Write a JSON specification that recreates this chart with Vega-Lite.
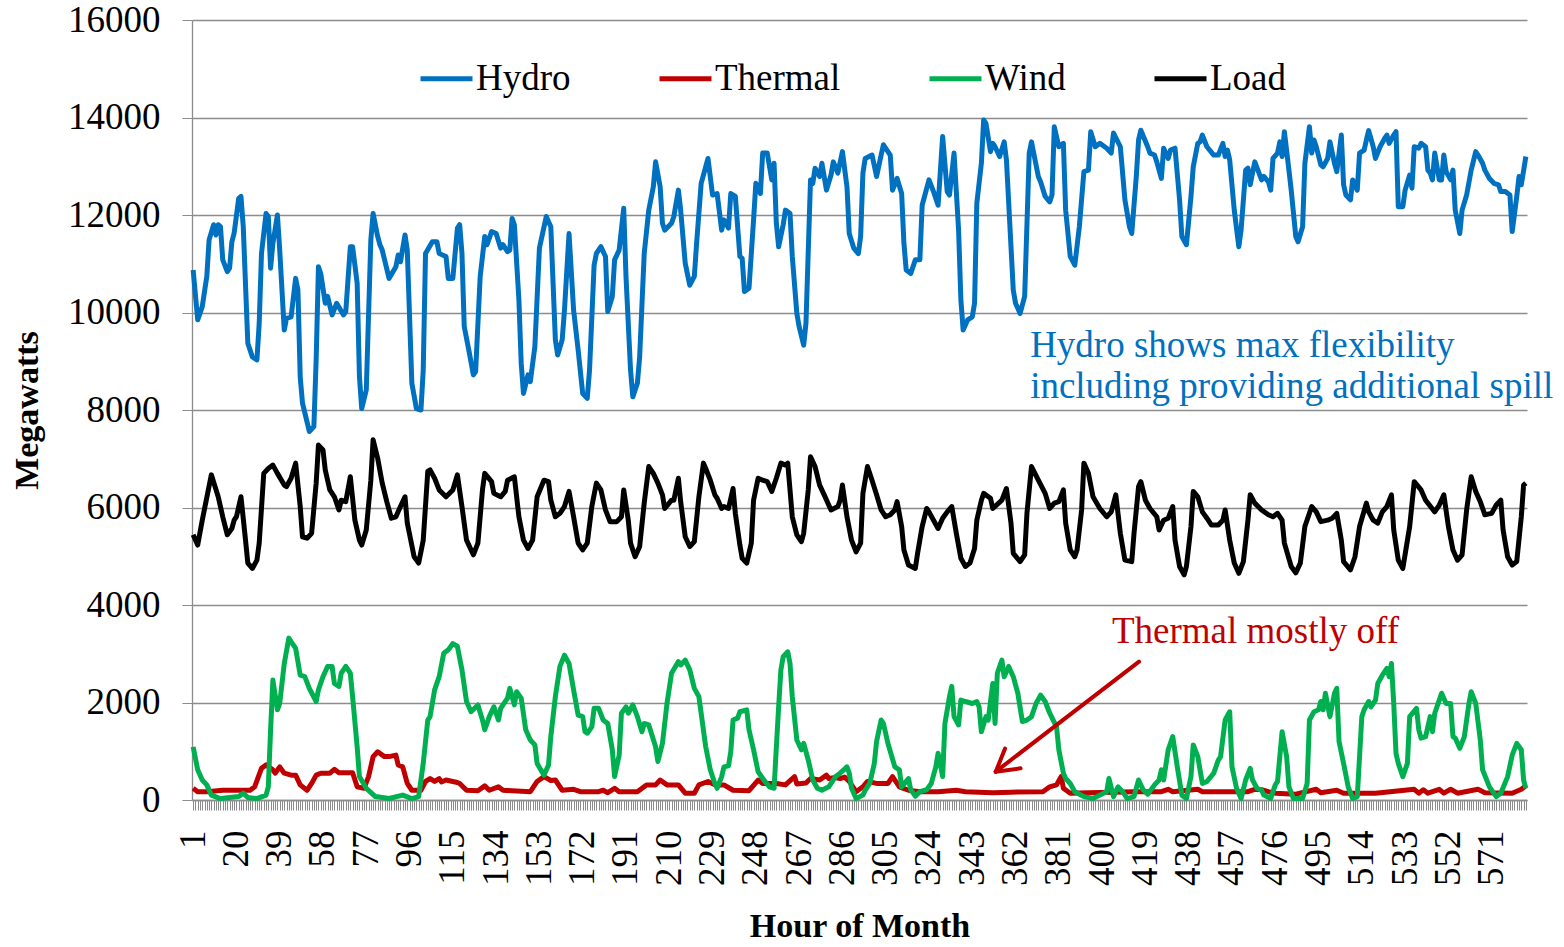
{
"$schema":"https://vega.github.io/schema/vega-lite/v6.json",
"width":1335,"height":780,
"autosize":{"type":"none"},
"padding":{"left":192,"top":20,"right":37,"bottom":147},
"background":"white",
"config":{"font":"Liberation Serif","view":{"stroke":null},"axis":{"labelFont":"Liberation Serif","titleFont":"Liberation Serif","labelColor":"#000000","titleColor":"#000000"},"legend":{"labelFont":"Liberation Serif"}},
"datasets":{
"hydro":[{"h":1,"v":10870},{"h":3,"v":9850},{"h":5,"v":10120},{"h":7,"v":10740},{"h":8,"v":11490},{"h":10,"v":11800},{"h":11,"v":11590},{"h":12,"v":11800},{"h":13,"v":11760},{"h":14,"v":11080},{"h":16,"v":10840},{"h":17,"v":10910},{"h":18,"v":11450},{"h":19,"v":11630},{"h":21,"v":12340},{"h":22,"v":12380},{"h":23,"v":11760},{"h":25,"v":9370},{"h":27,"v":9090},{"h":29,"v":9030},{"h":30,"v":9780},{"h":31,"v":11210},{"h":33,"v":12030},{"h":34,"v":11970},{"h":35,"v":10910},{"h":36,"v":11420},{"h":38,"v":12000},{"h":39,"v":11280},{"h":41,"v":9640},{"h":42,"v":9880},{"h":44,"v":9910},{"h":46,"v":10700},{"h":47,"v":10460},{"h":48,"v":8680},{"h":49,"v":8140},{"h":52,"v":7560},{"h":54,"v":7660},{"h":55,"v":9030},{"h":56,"v":10940},{"h":57,"v":10800},{"h":59,"v":10190},{"h":60,"v":10330},{"h":62,"v":9950},{"h":64,"v":10190},{"h":67,"v":9950},{"h":68,"v":10020},{"h":70,"v":11350},{"h":71,"v":11350},{"h":73,"v":10600},{"h":74,"v":8680},{"h":75,"v":8030},{"h":77,"v":8410},{"h":79,"v":11490},{"h":80,"v":12030},{"h":82,"v":11560},{"h":83,"v":11390},{"h":84,"v":11280},{"h":87,"v":10700},{"h":90,"v":10940},{"h":91,"v":11180},{"h":92,"v":11040},{"h":94,"v":11590},{"h":95,"v":11280},{"h":97,"v":8550},{"h":99,"v":8030},{"h":101,"v":8000},{"h":102,"v":8820},{"h":103,"v":11210},{"h":106,"v":11450},{"h":108,"v":11450},{"h":109,"v":11210},{"h":112,"v":11150},{"h":113,"v":10700},{"h":115,"v":10700},{"h":117,"v":11730},{"h":118,"v":11800},{"h":119,"v":11210},{"h":120,"v":9710},{"h":122,"v":9230},{"h":124,"v":8720},{"h":125,"v":8790},{"h":127,"v":10740},{"h":129,"v":11560},{"h":130,"v":11390},{"h":132,"v":11660},{"h":134,"v":11620},{"h":136,"v":11320},{"h":137,"v":11390},{"h":139,"v":11250},{"h":140,"v":11280},{"h":141,"v":11930},{"h":142,"v":11800},{"h":144,"v":10260},{"h":145,"v":8960},{"h":146,"v":8340},{"h":148,"v":8720},{"h":149,"v":8580},{"h":151,"v":9300},{"h":153,"v":11320},{"h":156,"v":11970},{"h":158,"v":11760},{"h":160,"v":9440},{"h":161,"v":9130},{"h":163,"v":9440},{"h":164,"v":10050},{"h":166,"v":11620},{"h":168,"v":10050},{"h":170,"v":9230},{"h":172,"v":8340},{"h":174,"v":8240},{"h":175,"v":8820},{"h":177,"v":10970},{"h":178,"v":11210},{"h":180,"v":11350},{"h":182,"v":11150},{"h":183,"v":10020},{"h":185,"v":10330},{"h":186,"v":11080},{"h":188,"v":11280},{"h":190,"v":12140},{"h":191,"v":10740},{"h":193,"v":8820},{"h":194,"v":8270},{"h":196,"v":8550},{"h":197,"v":9090},{"h":199,"v":11210},{"h":201,"v":12100},{"h":203,"v":12580},{"h":204,"v":13090},{"h":206,"v":12580},{"h":207,"v":11830},{"h":208,"v":11690},{"h":211,"v":11830},{"h":212,"v":11970},{"h":214,"v":12510},{"h":215,"v":12100},{"h":217,"v":11010},{"h":219,"v":10560},{"h":221,"v":10740},{"h":222,"v":11420},{"h":224,"v":12650},{"h":226,"v":12990},{"h":227,"v":13160},{"h":229,"v":12410},{"h":231,"v":12440},{"h":233,"v":11690},{"h":234,"v":11900},{"h":236,"v":11730},{"h":237,"v":12440},{"h":239,"v":12380},{"h":241,"v":11150},{"h":242,"v":11110},{"h":243,"v":10430},{"h":245,"v":10500},{"h":247,"v":11900},{"h":248,"v":12650},{"h":250,"v":12440},{"h":251,"v":13270},{"h":253,"v":13270},{"h":255,"v":12720},{"h":256,"v":13060},{"h":257,"v":11830},{"h":258,"v":11350},{"h":260,"v":11800},{"h":261,"v":12100},{"h":263,"v":12030},{"h":264,"v":11150},{"h":266,"v":9980},{"h":267,"v":9710},{"h":269,"v":9330},{"h":270,"v":9780},{"h":272,"v":12720},{"h":273,"v":12650},{"h":274,"v":12960},{"h":276,"v":12790},{"h":277,"v":13060},{"h":279,"v":12510},{"h":281,"v":12820},{"h":282,"v":13090},{"h":284,"v":12860},{"h":286,"v":13300},{"h":288,"v":12580},{"h":289,"v":11620},{"h":291,"v":11320},{"h":293,"v":11210},{"h":294,"v":11560},{"h":295,"v":12860},{"h":296,"v":13160},{"h":299,"v":13230},{"h":301,"v":12790},{"h":303,"v":13230},{"h":304,"v":13440},{"h":307,"v":13230},{"h":308,"v":12510},{"h":310,"v":12750},{"h":312,"v":12440},{"h":313,"v":11420},{"h":314,"v":10870},{"h":316,"v":10800},{"h":318,"v":11080},{"h":320,"v":11080},{"h":321,"v":12200},{"h":324,"v":12720},{"h":326,"v":12480},{"h":328,"v":12200},{"h":330,"v":13610},{"h":332,"v":12480},{"h":333,"v":12410},{"h":335,"v":13270},{"h":337,"v":11690},{"h":338,"v":10260},{"h":339,"v":9640},{"h":341,"v":9850},{"h":343,"v":9910},{"h":344,"v":10190},{"h":345,"v":12240},{"h":347,"v":13060},{"h":348,"v":13950},{"h":349,"v":13880},{"h":351,"v":13300},{"h":352,"v":13470},{"h":353,"v":13400},{"h":355,"v":13200},{"h":357,"v":13500},{"h":358,"v":13130},{"h":361,"v":10460},{"h":362,"v":10190},{"h":364,"v":9980},{"h":366,"v":10330},{"h":368,"v":13270},{"h":369,"v":13500},{"h":372,"v":12790},{"h":373,"v":12680},{"h":375,"v":12380},{"h":377,"v":12270},{"h":378,"v":12410},{"h":379,"v":13810},{"h":381,"v":13400},{"h":383,"v":13470},{"h":384,"v":12100},{"h":386,"v":11150},{"h":388,"v":10970},{"h":390,"v":11760},{"h":392,"v":12890},{"h":394,"v":12920},{"h":395,"v":13710},{"h":397,"v":13400},{"h":399,"v":13470},{"h":402,"v":13370},{"h":404,"v":13270},{"h":405,"v":13680},{"h":408,"v":13400},{"h":410,"v":12310},{"h":412,"v":11760},{"h":413,"v":11620},{"h":415,"v":12790},{"h":416,"v":13540},{"h":417,"v":13740},{"h":420,"v":13400},{"h":421,"v":13270},{"h":423,"v":13230},{"h":424,"v":13090},{"h":426,"v":12750},{"h":427,"v":13370},{"h":429,"v":13160},{"h":430,"v":13330},{"h":432,"v":13370},{"h":434,"v":12310},{"h":435,"v":11560},{"h":437,"v":11390},{"h":439,"v":12380},{"h":440,"v":12990},{"h":442,"v":13470},{"h":443,"v":13500},{"h":444,"v":13640},{"h":446,"v":13400},{"h":449,"v":13230},{"h":451,"v":13230},{"h":453,"v":13470},{"h":454,"v":13200},{"h":455,"v":13330},{"h":456,"v":13130},{"h":458,"v":12100},{"h":460,"v":11350},{"h":461,"v":11690},{"h":463,"v":12920},{"h":464,"v":12960},{"h":465,"v":12620},{"h":467,"v":13090},{"h":470,"v":12720},{"h":471,"v":12790},{"h":473,"v":12680},{"h":474,"v":12510},{"h":475,"v":13160},{"h":477,"v":13270},{"h":478,"v":13500},{"h":479,"v":13200},{"h":480,"v":13710},{"h":482,"v":12920},{"h":483,"v":12510},{"h":485,"v":11560},{"h":486,"v":11450},{"h":488,"v":11760},{"h":489,"v":13060},{"h":491,"v":13810},{"h":492,"v":13270},{"h":493,"v":13540},{"h":494,"v":13400},{"h":496,"v":13030},{"h":497,"v":12990},{"h":499,"v":13160},{"h":500,"v":13500},{"h":502,"v":13060},{"h":503,"v":12890},{"h":505,"v":13640},{"h":506,"v":12620},{"h":507,"v":12410},{"h":509,"v":12310},{"h":510,"v":12720},{"h":512,"v":12510},{"h":513,"v":13270},{"h":515,"v":13330},{"h":516,"v":13540},{"h":517,"v":13730},{"h":519,"v":13400},{"h":520,"v":13160},{"h":522,"v":13400},{"h":524,"v":13570},{"h":525,"v":13640},{"h":526,"v":13470},{"h":528,"v":13640},{"h":529,"v":13710},{"h":530,"v":12170},{"h":532,"v":12170},{"h":533,"v":12510},{"h":535,"v":12820},{"h":536,"v":12550},{"h":537,"v":13400},{"h":539,"v":13370},{"h":540,"v":13470},{"h":542,"v":13400},{"h":543,"v":12920},{"h":544,"v":12860},{"h":545,"v":12720},{"h":546,"v":13270},{"h":548,"v":12720},{"h":549,"v":12720},{"h":550,"v":13230},{"h":551,"v":12890},{"h":553,"v":12720},{"h":554,"v":12920},{"h":555,"v":12100},{"h":557,"v":11620},{"h":558,"v":12100},{"h":560,"v":12410},{"h":562,"v":12920},{"h":564,"v":13300},{"h":565,"v":13230},{"h":567,"v":13060},{"h":568,"v":12920},{"h":570,"v":12750},{"h":572,"v":12650},{"h":574,"v":12620},{"h":575,"v":12480},{"h":577,"v":12480},{"h":579,"v":12410},{"h":580,"v":11660},{"h":582,"v":12380},{"h":583,"v":12790},{"h":584,"v":12620},{"h":586,"v":13200}],
"thermal":[{"h":1,"v":240},{"h":3,"v":170},{"h":7,"v":170},{"h":14,"v":200},{"h":26,"v":200},{"h":28,"v":270},{"h":31,"v":650},{"h":33,"v":720},{"h":36,"v":620},{"h":37,"v":550},{"h":39,"v":680},{"h":41,"v":550},{"h":44,"v":510},{"h":46,"v":510},{"h":48,"v":310},{"h":51,"v":200},{"h":53,"v":340},{"h":55,"v":510},{"h":57,"v":550},{"h":61,"v":550},{"h":63,"v":630},{"h":65,"v":560},{"h":71,"v":560},{"h":73,"v":270},{"h":76,"v":240},{"h":78,"v":480},{"h":80,"v":890},{"h":82,"v":990},{"h":85,"v":890},{"h":87,"v":890},{"h":90,"v":920},{"h":91,"v":720},{"h":93,"v":680},{"h":95,"v":340},{"h":97,"v":200},{"h":101,"v":200},{"h":103,"v":380},{"h":105,"v":440},{"h":107,"v":380},{"h":109,"v":440},{"h":110,"v":370},{"h":112,"v":410},{"h":117,"v":360},{"h":118,"v":340},{"h":121,"v":200},{"h":126,"v":190},{"h":129,"v":290},{"h":131,"v":200},{"h":135,"v":270},{"h":137,"v":200},{"h":149,"v":170},{"h":152,"v":380},{"h":155,"v":480},{"h":158,"v":400},{"h":160,"v":410},{"h":163,"v":200},{"h":168,"v":220},{"h":171,"v":170},{"h":179,"v":170},{"h":181,"v":200},{"h":183,"v":150},{"h":186,"v":240},{"h":188,"v":170},{"h":196,"v":170},{"h":200,"v":310},{"h":204,"v":310},{"h":206,"v":410},{"h":209,"v":310},{"h":214,"v":310},{"h":217,"v":140},{"h":221,"v":140},{"h":223,"v":310},{"h":227,"v":380},{"h":230,"v":310},{"h":234,"v":310},{"h":238,"v":200},{"h":245,"v":190},{"h":249,"v":410},{"h":251,"v":340},{"h":257,"v":340},{"h":261,"v":310},{"h":265,"v":480},{"h":266,"v":330},{"h":270,"v":350},{"h":272,"v":440},{"h":276,"v":410},{"h":279,"v":510},{"h":280,"v":440},{"h":283,"v":460},{"h":285,"v":440},{"h":287,"v":470},{"h":289,"v":380},{"h":292,"v":170},{"h":295,"v":270},{"h":297,"v":380},{"h":301,"v":340},{"h":306,"v":340},{"h":308,"v":480},{"h":311,"v":270},{"h":315,"v":200},{"h":320,"v":170},{"h":328,"v":170},{"h":336,"v":200},{"h":340,"v":170},{"h":352,"v":150},{"h":360,"v":160},{"h":374,"v":170},{"h":377,"v":270},{"h":380,"v":310},{"h":382,"v":480},{"h":383,"v":240},{"h":386,"v":140},{"h":394,"v":150},{"h":405,"v":160},{"h":414,"v":170},{"h":426,"v":170},{"h":429,"v":220},{"h":431,"v":170},{"h":442,"v":220},{"h":444,"v":170},{"h":455,"v":170},{"h":464,"v":170},{"h":467,"v":220},{"h":470,"v":210},{"h":473,"v":170},{"h":476,"v":140},{"h":485,"v":120},{"h":494,"v":220},{"h":496,"v":150},{"h":503,"v":200},{"h":506,"v":140},{"h":520,"v":140},{"h":537,"v":220},{"h":539,"v":140},{"h":541,"v":210},{"h":543,"v":140},{"h":548,"v":220},{"h":550,"v":140},{"h":553,"v":220},{"h":556,"v":140},{"h":565,"v":220},{"h":568,"v":150},{"h":580,"v":140},{"h":584,"v":220},{"h":586,"v":290}],
"wind":[{"h":1,"v":1090},{"h":3,"v":620},{"h":5,"v":410},{"h":7,"v":310},{"h":9,"v":100},{"h":13,"v":30},{"h":21,"v":70},{"h":23,"v":140},{"h":25,"v":50},{"h":29,"v":30},{"h":33,"v":100},{"h":34,"v":270},{"h":35,"v":1440},{"h":36,"v":2460},{"h":38,"v":1850},{"h":39,"v":1980},{"h":41,"v":2800},{"h":43,"v":3320},{"h":44,"v":3250},{"h":46,"v":3110},{"h":48,"v":2560},{"h":50,"v":2530},{"h":52,"v":2290},{"h":55,"v":2020},{"h":56,"v":2260},{"h":58,"v":2530},{"h":60,"v":2740},{"h":62,"v":2740},{"h":63,"v":2390},{"h":65,"v":2330},{"h":66,"v":2600},{"h":68,"v":2740},{"h":70,"v":2600},{"h":71,"v":2120},{"h":73,"v":1090},{"h":74,"v":480},{"h":77,"v":240},{"h":81,"v":70},{"h":87,"v":30},{"h":93,"v":100},{"h":97,"v":30},{"h":100,"v":70},{"h":102,"v":750},{"h":104,"v":1640},{"h":105,"v":1710},{"h":107,"v":2260},{"h":109,"v":2530},{"h":111,"v":3010},{"h":113,"v":3080},{"h":115,"v":3210},{"h":117,"v":3150},{"h":119,"v":2670},{"h":121,"v":2020},{"h":123,"v":1810},{"h":126,"v":1950},{"h":128,"v":1640},{"h":129,"v":1440},{"h":131,"v":1710},{"h":133,"v":1910},{"h":135,"v":1640},{"h":136,"v":1880},{"h":139,"v":2090},{"h":140,"v":2290},{"h":142,"v":1950},{"h":143,"v":2220},{"h":145,"v":2090},{"h":147,"v":1440},{"h":149,"v":1230},{"h":151,"v":1130},{"h":152,"v":750},{"h":155,"v":510},{"h":157,"v":720},{"h":158,"v":1300},{"h":160,"v":2120},{"h":162,"v":2740},{"h":164,"v":2970},{"h":166,"v":2800},{"h":168,"v":2260},{"h":170,"v":1740},{"h":172,"v":1710},{"h":173,"v":1400},{"h":174,"v":1370},{"h":176,"v":1500},{"h":177,"v":1880},{"h":179,"v":1880},{"h":181,"v":1640},{"h":183,"v":1570},{"h":185,"v":1030},{"h":186,"v":480},{"h":188,"v":920},{"h":189,"v":1780},{"h":191,"v":1910},{"h":192,"v":1780},{"h":194,"v":1950},{"h":196,"v":1710},{"h":198,"v":1400},{"h":199,"v":1570},{"h":201,"v":1540},{"h":204,"v":1090},{"h":205,"v":790},{"h":207,"v":1160},{"h":209,"v":1980},{"h":211,"v":2600},{"h":214,"v":2840},{"h":215,"v":2770},{"h":217,"v":2870},{"h":219,"v":2670},{"h":221,"v":2290},{"h":223,"v":2120},{"h":226,"v":1090},{"h":228,"v":620},{"h":230,"v":340},{"h":231,"v":240},{"h":233,"v":480},{"h":234,"v":680},{"h":236,"v":700},{"h":237,"v":990},{"h":238,"v":1640},{"h":240,"v":1680},{"h":241,"v":1810},{"h":244,"v":1850},{"h":245,"v":1440},{"h":247,"v":1030},{"h":249,"v":580},{"h":252,"v":380},{"h":254,"v":270},{"h":256,"v":240},{"h":258,"v":1910},{"h":259,"v":2670},{"h":260,"v":2940},{"h":262,"v":3040},{"h":263,"v":2800},{"h":264,"v":2120},{"h":266,"v":1230},{"h":268,"v":1030},{"h":269,"v":1160},{"h":271,"v":820},{"h":273,"v":410},{"h":275,"v":240},{"h":277,"v":200},{"h":280,"v":270},{"h":283,"v":480},{"h":285,"v":550},{"h":288,"v":680},{"h":289,"v":550},{"h":290,"v":240},{"h":292,"v":30},{"h":295,"v":100},{"h":296,"v":200},{"h":298,"v":340},{"h":300,"v":750},{"h":301,"v":1200},{"h":303,"v":1640},{"h":304,"v":1570},{"h":306,"v":1160},{"h":309,"v":680},{"h":311,"v":620},{"h":312,"v":270},{"h":315,"v":440},{"h":316,"v":210},{"h":318,"v":80},{"h":320,"v":170},{"h":323,"v":210},{"h":325,"v":340},{"h":327,"v":680},{"h":328,"v":960},{"h":330,"v":480},{"h":331,"v":1570},{"h":333,"v":2120},{"h":334,"v":2330},{"h":335,"v":1710},{"h":337,"v":1540},{"h":338,"v":2050},{"h":340,"v":2020},{"h":343,"v":1980},{"h":345,"v":2020},{"h":346,"v":1910},{"h":347,"v":1400},{"h":349,"v":1710},{"h":350,"v":1640},{"h":352,"v":2390},{"h":353,"v":1570},{"h":354,"v":2600},{"h":356,"v":2870},{"h":357,"v":2530},{"h":359,"v":2740},{"h":361,"v":2530},{"h":363,"v":2190},{"h":365,"v":1610},{"h":367,"v":1640},{"h":369,"v":1710},{"h":371,"v":1980},{"h":373,"v":2150},{"h":375,"v":2020},{"h":377,"v":1780},{"h":380,"v":1500},{"h":381,"v":1030},{"h":383,"v":550},{"h":384,"v":440},{"h":386,"v":340},{"h":388,"v":170},{"h":392,"v":70},{"h":396,"v":30},{"h":399,"v":100},{"h":402,"v":170},{"h":403,"v":440},{"h":405,"v":70},{"h":407,"v":270},{"h":409,"v":170},{"h":411,"v":30},{"h":414,"v":70},{"h":416,"v":410},{"h":418,"v":210},{"h":420,"v":120},{"h":423,"v":310},{"h":425,"v":410},{"h":426,"v":620},{"h":427,"v":410},{"h":429,"v":1030},{"h":431,"v":1300},{"h":433,"v":680},{"h":435,"v":100},{"h":437,"v":30},{"h":439,"v":480},{"h":440,"v":1130},{"h":442,"v":890},{"h":444,"v":340},{"h":446,"v":380},{"h":449,"v":550},{"h":451,"v":820},{"h":452,"v":890},{"h":454,"v":1640},{"h":456,"v":1810},{"h":457,"v":680},{"h":459,"v":240},{"h":461,"v":30},{"h":463,"v":410},{"h":465,"v":650},{"h":466,"v":410},{"h":468,"v":240},{"h":470,"v":200},{"h":471,"v":100},{"h":474,"v":30},{"h":476,"v":310},{"h":477,"v":380},{"h":479,"v":1400},{"h":481,"v":890},{"h":482,"v":270},{"h":484,"v":30},{"h":488,"v":30},{"h":490,"v":340},{"h":491,"v":1640},{"h":493,"v":1810},{"h":495,"v":1850},{"h":496,"v":2020},{"h":497,"v":1850},{"h":498,"v":2190},{"h":500,"v":1710},{"h":502,"v":2190},{"h":503,"v":2290},{"h":504,"v":1200},{"h":506,"v":750},{"h":508,"v":270},{"h":510,"v":30},{"h":512,"v":70},{"h":514,"v":1710},{"h":515,"v":1850},{"h":517,"v":2020},{"h":518,"v":1910},{"h":520,"v":2050},{"h":521,"v":2390},{"h":523,"v":2560},{"h":525,"v":2700},{"h":526,"v":2530},{"h":527,"v":2800},{"h":528,"v":1980},{"h":529,"v":960},{"h":530,"v":750},{"h":532,"v":480},{"h":534,"v":750},{"h":535,"v":1710},{"h":538,"v":1880},{"h":539,"v":1440},{"h":540,"v":1270},{"h":542,"v":1300},{"h":544,"v":1710},{"h":545,"v":1400},{"h":546,"v":1780},{"h":548,"v":2050},{"h":549,"v":2190},{"h":551,"v":1980},{"h":553,"v":1980},{"h":554,"v":1300},{"h":555,"v":1270},{"h":557,"v":1060},{"h":559,"v":1300},{"h":561,"v":1980},{"h":562,"v":2220},{"h":564,"v":1980},{"h":566,"v":1230},{"h":567,"v":620},{"h":570,"v":270},{"h":573,"v":70},{"h":575,"v":140},{"h":578,"v":480},{"h":580,"v":920},{"h":582,"v":1160},{"h":584,"v":1030},{"h":585,"v":410},{"h":586,"v":240}],
"load":[{"h":1,"v":5440},{"h":3,"v":5230},{"h":5,"v":5740},{"h":9,"v":6670},{"h":12,"v":6220},{"h":14,"v":5810},{"h":16,"v":5440},{"h":18,"v":5570},{"h":19,"v":5740},{"h":20,"v":5810},{"h":22,"v":6220},{"h":24,"v":5330},{"h":25,"v":4860},{"h":27,"v":4750},{"h":29,"v":4920},{"h":30,"v":5270},{"h":32,"v":6700},{"h":34,"v":6800},{"h":36,"v":6870},{"h":38,"v":6700},{"h":41,"v":6460},{"h":42,"v":6430},{"h":44,"v":6600},{"h":46,"v":6910},{"h":48,"v":6020},{"h":49,"v":5400},{"h":51,"v":5370},{"h":53,"v":5470},{"h":55,"v":6500},{"h":56,"v":7280},{"h":58,"v":7180},{"h":59,"v":6770},{"h":61,"v":6360},{"h":63,"v":6220},{"h":65,"v":5950},{"h":66,"v":6150},{"h":68,"v":6120},{"h":70,"v":6630},{"h":72,"v":5740},{"h":74,"v":5330},{"h":75,"v":5230},{"h":77,"v":5540},{"h":79,"v":6560},{"h":80,"v":7390},{"h":82,"v":7010},{"h":84,"v":6500},{"h":86,"v":6120},{"h":88,"v":5780},{"h":90,"v":5810},{"h":92,"v":6020},{"h":94,"v":6220},{"h":95,"v":5680},{"h":98,"v":4990},{"h":100,"v":4860},{"h":102,"v":5330},{"h":104,"v":6740},{"h":105,"v":6770},{"h":107,"v":6600},{"h":109,"v":6360},{"h":112,"v":6220},{"h":115,"v":6360},{"h":117,"v":6670},{"h":119,"v":6020},{"h":121,"v":5330},{"h":124,"v":5030},{"h":126,"v":5270},{"h":128,"v":6360},{"h":129,"v":6700},{"h":132,"v":6530},{"h":133,"v":6290},{"h":136,"v":6220},{"h":138,"v":6330},{"h":139,"v":6560},{"h":142,"v":6630},{"h":144,"v":5810},{"h":146,"v":5330},{"h":148,"v":5160},{"h":150,"v":5330},{"h":152,"v":6220},{"h":155,"v":6560},{"h":157,"v":6530},{"h":158,"v":6150},{"h":160,"v":5810},{"h":162,"v":5880},{"h":164,"v":6020},{"h":166,"v":6330},{"h":168,"v":5810},{"h":170,"v":5270},{"h":172,"v":5130},{"h":174,"v":5270},{"h":176,"v":6020},{"h":178,"v":6500},{"h":180,"v":6360},{"h":182,"v":5950},{"h":184,"v":5710},{"h":187,"v":5710},{"h":189,"v":5810},{"h":190,"v":6360},{"h":192,"v":5740},{"h":193,"v":5270},{"h":195,"v":4990},{"h":197,"v":5200},{"h":199,"v":6090},{"h":201,"v":6840},{"h":203,"v":6700},{"h":205,"v":6500},{"h":207,"v":6260},{"h":208,"v":5980},{"h":211,"v":6150},{"h":212,"v":6150},{"h":214,"v":6600},{"h":215,"v":6120},{"h":217,"v":5400},{"h":219,"v":5200},{"h":221,"v":5300},{"h":223,"v":6220},{"h":225,"v":6910},{"h":226,"v":6800},{"h":228,"v":6560},{"h":230,"v":6260},{"h":231,"v":6190},{"h":233,"v":5980},{"h":234,"v":6020},{"h":236,"v":5980},{"h":238,"v":6390},{"h":239,"v":5880},{"h":241,"v":5230},{"h":242,"v":4960},{"h":244,"v":4860},{"h":246,"v":5270},{"h":247,"v":6150},{"h":249,"v":6600},{"h":251,"v":6560},{"h":253,"v":6530},{"h":255,"v":6330},{"h":257,"v":6600},{"h":259,"v":6910},{"h":261,"v":6870},{"h":262,"v":6910},{"h":264,"v":5810},{"h":266,"v":5440},{"h":268,"v":5300},{"h":269,"v":5470},{"h":271,"v":6360},{"h":272,"v":7040},{"h":274,"v":6840},{"h":276,"v":6460},{"h":278,"v":6260},{"h":280,"v":6050},{"h":281,"v":5950},{"h":284,"v":6020},{"h":285,"v":6150},{"h":286,"v":6460},{"h":288,"v":5810},{"h":290,"v":5330},{"h":292,"v":5090},{"h":294,"v":5270},{"h":295,"v":6290},{"h":297,"v":6840},{"h":299,"v":6560},{"h":301,"v":6260},{"h":303,"v":5950},{"h":305,"v":5810},{"h":307,"v":5850},{"h":309,"v":5950},{"h":310,"v":6120},{"h":312,"v":5610},{"h":313,"v":5130},{"h":315,"v":4820},{"h":318,"v":4750},{"h":319,"v":5060},{"h":321,"v":5610},{"h":323,"v":5980},{"h":324,"v":5910},{"h":326,"v":5740},{"h":328,"v":5570},{"h":330,"v":5780},{"h":332,"v":5910},{"h":334,"v":6020},{"h":336,"v":5470},{"h":338,"v":4960},{"h":340,"v":4790},{"h":342,"v":4860},{"h":344,"v":5160},{"h":345,"v":5740},{"h":347,"v":6150},{"h":348,"v":6290},{"h":351,"v":6190},{"h":352,"v":5980},{"h":356,"v":6150},{"h":358,"v":6390},{"h":360,"v":5680},{"h":361,"v":5060},{"h":364,"v":4890},{"h":366,"v":5030},{"h":367,"v":5880},{"h":369,"v":6840},{"h":372,"v":6560},{"h":375,"v":6290},{"h":377,"v":5980},{"h":379,"v":6090},{"h":381,"v":6120},{"h":383,"v":6360},{"h":384,"v":5680},{"h":386,"v":5130},{"h":388,"v":4990},{"h":389,"v":5130},{"h":391,"v":5950},{"h":392,"v":6910},{"h":394,"v":6700},{"h":396,"v":6220},{"h":399,"v":5980},{"h":402,"v":5810},{"h":404,"v":5910},{"h":406,"v":6260},{"h":408,"v":5470},{"h":410,"v":4920},{"h":413,"v":4890},{"h":414,"v":5470},{"h":416,"v":6430},{"h":417,"v":6530},{"h":419,"v":6150},{"h":421,"v":5980},{"h":424,"v":5810},{"h":425,"v":5540},{"h":427,"v":5740},{"h":429,"v":5780},{"h":431,"v":6020},{"h":432,"v":5330},{"h":434,"v":4790},{"h":436,"v":4620},{"h":437,"v":4790},{"h":439,"v":5610},{"h":440,"v":6330},{"h":442,"v":6220},{"h":444,"v":5910},{"h":446,"v":5780},{"h":448,"v":5640},{"h":451,"v":5640},{"h":453,"v":5740},{"h":454,"v":5950},{"h":456,"v":5330},{"h":458,"v":4860},{"h":460,"v":4650},{"h":462,"v":4890},{"h":464,"v":5740},{"h":465,"v":6260},{"h":467,"v":6090},{"h":470,"v":5950},{"h":473,"v":5850},{"h":475,"v":5810},{"h":477,"v":5880},{"h":479,"v":5740},{"h":480,"v":5270},{"h":483,"v":4790},{"h":485,"v":4660},{"h":487,"v":4860},{"h":489,"v":5610},{"h":492,"v":6020},{"h":494,"v":5910},{"h":496,"v":5710},{"h":499,"v":5740},{"h":501,"v":5780},{"h":503,"v":5880},{"h":505,"v":5330},{"h":506,"v":4890},{"h":509,"v":4720},{"h":511,"v":4990},{"h":513,"v":5610},{"h":516,"v":6090},{"h":517,"v":5910},{"h":519,"v":5740},{"h":521,"v":5680},{"h":523,"v":5910},{"h":525,"v":6020},{"h":527,"v":6260},{"h":528,"v":5540},{"h":530,"v":4920},{"h":532,"v":4750},{"h":535,"v":5610},{"h":537,"v":6530},{"h":540,"v":6360},{"h":542,"v":6150},{"h":546,"v":5910},{"h":548,"v":6050},{"h":550,"v":6260},{"h":552,"v":5610},{"h":554,"v":5130},{"h":556,"v":4920},{"h":558,"v":5030},{"h":560,"v":5950},{"h":562,"v":6630},{"h":564,"v":6330},{"h":566,"v":6120},{"h":568,"v":5850},{"h":571,"v":5880},{"h":573,"v":6050},{"h":575,"v":6150},{"h":576,"v":5540},{"h":578,"v":4990},{"h":580,"v":4820},{"h":582,"v":4890},{"h":584,"v":5810},{"h":585,"v":6460},{"h":586,"v":6500}],
"hydronote":[{"h":368.4,"v":9090,"t":"Hydro shows max flexibility"},{"h":368.4,"v":8240,"t":"including providing additional spill"}],
"thermalnote":[{"h":404.3,"v":3214,"t":"Thermal mostly off"}],
"arrow":[{"h":416.2,"v":2837,"h2":353.3,"v2":581},{"h":353.3,"v":581,"h2":364.2,"v2":650},{"h":353.3,"v":581,"h2":357.4,"v2":1054}]
},
"encoding":{
"x":{"field":"h","type":"quantitative","scale":{"domain":[0.5,586.5],"nice":false,"zero":false},
"axis":{"tickCount":600,"labelExpr":"(datum.value - 1) % 19 == 0 ? datum.label : ''","labelOverlap":false,"labelFlush":false,"labelAngle":-90,"labelAlign":"right","labelBaseline":"middle","labelFontSize":37,"labelPadding":20,"tickSize":10,"tickColor":"#8c8c8c","tickWidth":1,"domainColor":"#8c8c8c","domainWidth":1.3,"grid":false,"format":"d","title":"Hour of Month","titleFontSize":34,"titleFontWeight":"bold","titleBaseline":"alphabetic","titleY":136}},
"y":{"field":"v","type":"quantitative","scale":{"domain":[0,16000],"nice":false},
"axis":{"values":[0,2000,4000,6000,8000,10000,12000,14000,16000],"format":"d","labelFontSize":37,"labelPadding":22,"tickSize":10,"tickColor":"#8c8c8c","domainColor":"#8c8c8c","domainWidth":1.3,"grid":true,"gridColor":"#8c8c8c","gridWidth":1.3,"title":"Megawatts","titleFontSize":34,"titleFontWeight":"bold","titleAngle":270,"titleAlign":"center","titleBaseline":"middle","titleX":-165,"titleY":390}}
},
"layer":[
{"data":{"name":"hydro"},"mark":{"type":"line","strokeWidth":5,"strokeJoin":"round"},
"encoding":{"color":{"datum":"Hydro","scale":{"domain":["Hydro","Thermal","Wind","Load"],"range":["#0070C0","#C00000","#00B050","#000000"]},
"legend":{"orient":"none","legendX":226,"legendY":30,"direction":"horizontal","title":null,"symbolType":"stroke","symbolSize":2704,"symbolStrokeWidth":5,"labelFontSize":37,"labelOffset":1,"columnPadding":78,"labelLimit":0,"labelColor":"#000000"}}}},
{"data":{"name":"thermal"},"mark":{"type":"line","strokeWidth":5,"strokeJoin":"round"},"encoding":{"color":{"datum":"Thermal"}}},
{"data":{"name":"wind"},"mark":{"type":"line","strokeWidth":5,"strokeJoin":"round"},"encoding":{"color":{"datum":"Wind"}}},
{"data":{"name":"load"},"mark":{"type":"line","strokeWidth":5,"strokeJoin":"round"},"encoding":{"color":{"datum":"Load"}}},
{"data":{"name":"hydronote"},"mark":{"type":"text","align":"left","baseline":"alphabetic","fontSize":37,"font":"Liberation Serif","color":"#0070C0"},"encoding":{"text":{"field":"t"}}},
{"data":{"name":"thermalnote"},"mark":{"type":"text","align":"left","baseline":"alphabetic","fontSize":37,"font":"Liberation Serif","color":"#C00000"},"encoding":{"text":{"field":"t"}}},
{"data":{"name":"arrow"},"mark":{"type":"rule","color":"#C00000","strokeWidth":4,"strokeCap":"round"},"encoding":{"x2":{"field":"h2"},"y2":{"field":"v2"}}}
]
}
